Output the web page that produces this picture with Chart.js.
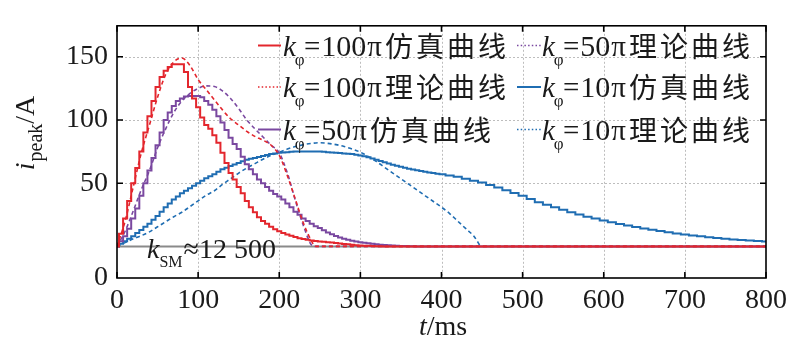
<!DOCTYPE html>
<html><head><meta charset="utf-8">
<script src="https://cdn.jsdelivr.net/npm/chart.js@4.4.0/dist/chart.umd.min.js"></script>
<style>html,body{margin:0;padding:0;background:#fff;}canvas{display:block;}</style>
</head><body>
<canvas id="c" width="793" height="352"></canvas>
<script>
// ---- data (t in ms, i_peak in A) ----
// simulation time grid for the 100π and 50π runs (flat at 0 after 330–370 ms)
const tSimA = [0,5,10,15,20,25,30,35,40,45,50,55,60,65,70,75,80,85,90,95,100,105,110,115,120,125,130,135,140,145,150,155,160,165,170,175,180,185,190,195,200,205,210,215,220,225,230,235,240,245,250,255,260,265,270,275,280,285,290,295,300,305,310,315,320,325,330,335,340,345,350,355,360,365,370,375,380,385,390,395,400,800];
const red100Sim = [0,10,22,36,50,62,75,90,103,115,126,134,139,142,144,144,144,138,126,117,110,102,96,93,88,82,74,66,58,53,47,42,36,31,27,23,20,18,15.5,13.5,12,10.5,9.5,8.5,7.5,6.5,5.8,5.2,4.6,4.2,3.9,3.6,3.3,3,2.6,2.2,1.9,1.6,1.3,1,0.8,0.6,0.45,0.3,0.2,0.1,0,0,0,0,0,0,0,0,0,0,0,0,0,0,0,0];
const purple50Sim = [0,4,8,14,22,30,40,50,60,70,80,90,100,106,111,115,117,118.5,119,119,119,118,115,112,108,103,98,92,86,81,77,71,65,61,57,53,50,47,44,41.5,39.5,37,34,31,27.5,25,22,20,18,16,14.5,12.7,11,9.6,8.3,7.1,6,5.2,4.5,3.9,3.3,2.8,2.4,2,1.7,1.4,1.1,0.9,0.7,0.55,0.4,0.3,0.2,0.1,0,0,0,0,0,0,0,0];
// simulation time grid for the 10π run
const tSimB = [0,5,10,15,20,25,30,35,40,45,50,55,60,65,70,75,80,85,90,95,100,105,110,115,120,125,130,135,140,145,150,155,160,165,170,175,180,185,190,195,200,205,210,215,220,225,230,235,240,245,250,255,260,265,270,275,280,285,290,295,300,305,310,315,320,325,330,335,340,345,350,355,360,365,370,375,380,385,390,395,400,410,420,430,440,450,460,470,480,490,500,510,520,530,540,550,560,570,580,590,600,610,620,630,640,650,660,670,680,690,700,710,720,730,740,750,760,770,780,790,800];
const blue10Sim = [0,2,4,6,8,10.5,13,15.5,18,21,24,27.5,31,34,37,39.5,42,44,46,48,50,52,54,55.5,57,59,61,62.3,63.5,64.8,66,67.3,68.5,69.3,70,70.8,71.5,72.3,73,73.5,74,74.3,74.5,74.8,75,75,75,75,75,75,75,74.8,74.5,74.3,74,73.8,73.5,73.3,73,72.5,72,71.3,70.5,69.5,68.5,67.5,66.5,65.5,64.5,63.8,63,62.3,61.5,60.8,60.2,59.6,59,58.5,58,57.5,57,56,55,53.5,52,50.5,48.5,46.5,44.5,42.3,40,37.5,35,33,31,29,27,25.2,23.5,22,20.5,19.1,17.8,16.5,15.3,14.2,13.2,12.2,11.2,10.3,9.5,8.7,8,7.3,6.6,6,5.5,5,4.6,4.2,3.8];

const tRedTheory = [0,10,20,30,40,50,60,70,80,90,100,110,120,130,140,150,160,170,180,190,200,210,220,230,240,245,800];
const red100Theory = [0,20,47,74,96,118,136,146,149,143,132,124,116,108,101,96,91,87,84,80,72,56,37,18,4,0,0];
const tPurpleTheory = [0,10,20,30,40,50,60,70,80,90,100,110,120,130,140,150,160,170,180,190,200,210,220,230,240,245,800];
const purple50Theory = [0,12,28,45,60,78,93,106,115,121,125,127,126.5,123,117,109,100,93,86.5,80,74,58,36,16,1,0,0];
const tBlueTheory = [0,10,20,30,40,50,60,70,80,90,100,110,120,130,140,150,160,170,180,190,200,210,220,230,240,250,260,270,280,290,300,310,320,330,340,350,360,370,380,390,400,410,420,430,440,448];
const blue10Theory = [0,3,6,8.5,11.5,15.5,19.5,23.5,27,31.5,36,40.5,44,49,53.5,58,62,65.5,69,72,74.5,77,79,80.5,81.5,82,81.5,80.5,79,77,74.5,71,67,62.5,58,53.5,49,44.5,40,35.5,31,26,20,14,8,0];
const tKsm = [0,800];
const kSmLine = [0,0];

const xTicks = [0,100,200,300,400,500,600,700,800];
const yTickValues = [-25,50,100,150];
const yTickLabels = ['0','50','100','150'];

const legendItems = [
  {num:'100', cn:'仿真曲线', series:0},
  {num:'100', cn:'理论曲线', series:1},
  {num:'50',  cn:'仿真曲线', series:2},
  {num:'50',  cn:'理论曲线', series:3},
  {num:'10',  cn:'仿真曲线', series:4},
  {num:'10',  cn:'理论曲线', series:5}
];

// ---- styling ----
const RED='#e3262d', PURPLE='#7a48a0', BLUE='#1f6db2', GRAY='#8a8a8a';
const SERIF='"Liberation Serif","Times New Roman",serif';
const CJK='"Noto Sans CJK SC",sans-serif';
const pts=(xs,ys)=>xs.map((x,i)=>({x:x,y:ys[i]}));

const simDs=(label,xs,ys,color)=>({label,data:pts(xs,ys),borderColor:color,borderWidth:2,pointRadius:0,stepped:'middle',fill:false});
const thDs=(label,xs,ys,color)=>({label,data:pts(xs,ys),borderColor:color,borderWidth:1.6,borderDash:[4,3],pointRadius:0,cubicInterpolationMode:'monotone',fill:false});

const datasets=[
  simDs('kφ=100π仿真曲线',tSimA,red100Sim,RED),
  thDs('kφ=100π理论曲线',tRedTheory,red100Theory,RED),
  simDs('kφ=50π仿真曲线',tSimA,purple50Sim,PURPLE),
  thDs('kφ=50π理论曲线',tPurpleTheory,purple50Theory,PURPLE),
  simDs('kφ=10π仿真曲线',tSimB,blue10Sim,BLUE),
  thDs('kφ=10π理论曲线',tBlueTheory,blue10Theory,BLUE),
  {label:'kSM',data:pts(tKsm,kSmLine),borderColor:GRAY,borderWidth:2,pointRadius:0,fill:false}
];

function txt(ctx,s,x,y,font,align){ctx.font=font;ctx.textAlign=align||'left';ctx.fillText(s,x,y);return ctx.measureText(s).width;}

const decor={
  id:'decor',
  beforeDatasetsDraw(chart){
    const ctx=chart.ctx, a=chart.chartArea, xs=chart.scales.x, ys=chart.scales.y;
    ctx.save();
    ctx.strokeStyle='#bdbdbd';ctx.lineWidth=1;ctx.setLineDash([2,2]);
    ctx.beginPath();
    xTicks.slice(1,-1).forEach(v=>{const p=Math.round(xs.getPixelForValue(v))+0.5;ctx.moveTo(p,a.top);ctx.lineTo(p,a.bottom);});
    yTickValues.slice(1).forEach(v=>{const p=Math.round(ys.getPixelForValue(v))+0.5;ctx.moveTo(a.left,p);ctx.lineTo(a.right,p);});
    ctx.stroke();
    ctx.restore();
  },
  afterDatasetsDraw(chart){
    const ctx=chart.ctx, a=chart.chartArea, xs=chart.scales.x, ys=chart.scales.y;
    ctx.save();
    ctx.strokeStyle='#000';ctx.lineWidth=1.6;ctx.setLineDash([]);
    ctx.strokeRect(a.left,a.top,a.right-a.left,a.bottom-a.top);
    ctx.beginPath();
    xTicks.forEach(v=>{const p=xs.getPixelForValue(v);ctx.moveTo(p,a.bottom);ctx.lineTo(p,a.bottom-6);ctx.moveTo(p,a.top);ctx.lineTo(p,a.top+6);});
    yTickValues.slice(1).forEach(v=>{const p=ys.getPixelForValue(v);ctx.moveTo(a.left,p);ctx.lineTo(a.left+6,p);ctx.moveTo(a.right,p);ctx.lineTo(a.right-6,p);});
    ctx.stroke();
    ctx.restore();
  },
  afterDraw(chart){
    const ctx=chart.ctx;
    ctx.save();
    ctx.fillStyle='#1a1a1a';ctx.textBaseline='alphabetic';
    // legend
    const cols=[{kx:283,l0:258,l1:281},{kx:542,l0:517,l1:541}];
    const rows=[45.5,87,129.5];
    legendItems.forEach((it,i)=>{
      const c=cols[Math.floor(i/3)], yc=rows[i%3], ds=chart.data.datasets[it.series];
      const dotted=!!ds.borderDash;
      ctx.save();ctx.strokeStyle=ds.borderColor;ctx.lineWidth=dotted?1.5:2;ctx.setLineDash(dotted?[1.5,2.2]:[]);
      ctx.beginPath();ctx.moveTo(c.l0,yc);ctx.lineTo(c.l1,yc);ctx.stroke();ctx.restore();
      const base=yc+10;
      const kw=txt(ctx,'k',c.kx,base,'italic 29px '+SERIF);
      txt(ctx,'φ',c.kx+kw-1,base+9,'17px '+SERIF);
      let x=c.kx+21;
      x+=txt(ctx,'=',x,base,'29px '+SERIF);
      x+=1;
      x+=txt(ctx,it.num,x,base,'30px '+SERIF);
      x+=1;
      x+=txt(ctx,'π',x,base,'29px '+SERIF);
      x+=3;
      ctx.font='28px '+CJK;
      for(const ch of it.cn){ctx.fillText(ch,x,base+1);x+=31;}
    });
    // k_SM annotation
    let x=147;
    const kw=txt(ctx,'k',x,258,'italic 28px '+SERIF);
    const sw=txt(ctx,'SM',x+kw,267,'16px '+SERIF);
    txt(ctx,'≈12 500',x+kw+sw+1,258,'28px '+SERIF);
    // x title
    ctx.font='italic 28px '+SERIF;const tw=ctx.measureText('t').width;
    ctx.font='28px '+SERIF;const mw=ctx.measureText('/ms').width;
    let x0=443-(tw+mw)/2;
    txt(ctx,'t',x0,335,'italic 28px '+SERIF);
    txt(ctx,'/ms',x0+tw,335,'28px '+SERIF);
    // y title (rotated)
    ctx.translate(34,133);ctx.rotate(-Math.PI/2);
    ctx.font='italic 28px '+SERIF;const iw=ctx.measureText('i').width;
    ctx.font='20px '+SERIF;const pw=ctx.measureText('peak').width;
    ctx.font='28px '+SERIF;const aw=ctx.measureText('/A').width;
    let u=-(iw+1+pw+aw)/2;
    txt(ctx,'i',u,0,'italic 28px '+SERIF);u+=iw+1;
    txt(ctx,'peak',u,8,'20px '+SERIF);u+=pw;
    txt(ctx,'/A',u,0,'28px '+SERIF);
    ctx.restore();
  }
};

new Chart(document.getElementById('c'),{
  type:'line',
  data:{datasets},
  options:{
    responsive:false,animation:false,devicePixelRatio:1,
    layout:{padding:{top:23,right:26,left:0,bottom:0}},
    plugins:{legend:{display:false},tooltip:{enabled:false}},
    scales:{
      x:{type:'linear',min:0,max:800,
        afterFit(s){s.height=74;},
        afterBuildTicks(s){s.ticks=xTicks.map(v=>({value:v}));},
        grid:{display:false,drawTicks:false},
        border:{display:false},
        ticks:{color:'#1a1a1a',font:{family:SERIF,size:28},padding:6,maxRotation:0,autoSkip:false}},
      y:{type:'linear',min:-25,max:174.5,
        afterFit(s){s.width=117;},
        afterBuildTicks(s){s.ticks=yTickValues.map(v=>({value:v}));},
        grid:{display:false,drawTicks:false},
        border:{display:false},
        ticks:{color:'#1a1a1a',font:{family:SERIF,size:28},padding:9,autoSkip:false,
          callback:(v)=>yTickLabels[yTickValues.indexOf(v)]}}
    }
  },
  plugins:[decor]
});
</script>
</body></html>
